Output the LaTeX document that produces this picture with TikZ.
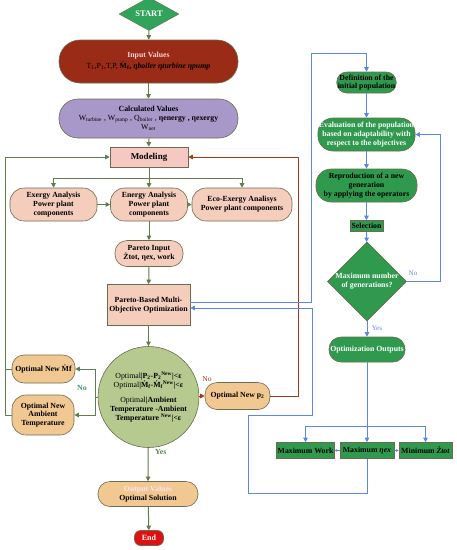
\documentclass[tikz,border=0pt]{standalone}
\usepackage{amsmath}
\usepackage{xcolor}
\usepackage{fontspec}
\setmainfont{Liberation Serif}
\usepackage{tikz}
\usetikzlibrary{arrows.meta,positioning,shapes.geometric,calc}

\definecolor{startgreen}{HTML}{2FA45A}
\definecolor{inred}{HTML}{9A2B16}
\definecolor{inpink}{HTML}{FAD0D6}
\definecolor{calcpurple}{HTML}{A897C9}
\definecolor{modpink}{HTML}{F5C9C1}
\definecolor{anasalmon}{HTML}{F5CDBD}
\definecolor{opttan}{HTML}{F1C891}
\definecolor{circgreen}{HTML}{B6CA8F}
\definecolor{gagreen}{HTML}{2F9A4E}
\definecolor{boxedge}{HTML}{6D6B4F}
\definecolor{flowgreen}{HTML}{5F7E4E}
\definecolor{flowblue}{HTML}{5B87E6}
\definecolor{flowred}{HTML}{A33A1A}
\definecolor{endred}{HTML}{E01010}
\definecolor{nogreen}{HTML}{3A9A6E}

\begin{document}
\begin{tikzpicture}[x=1pt, y=-1pt,
  font=\fontsize{7.8}{8.8}\selectfont\bfseries,
  box/.style={draw=boxedge, line width=0.6pt, align=center, inner sep=1pt},
  pill/.style={box, rounded corners=#1},
  gline/.style={flowgreen, line width=1pt},
  gflow/.style={gline, -{Triangle[length=4.5pt,width=4.5pt]}},
  bline/.style={flowblue, line width=1pt},
  bflow/.style={bline, -{Triangle[length=4.5pt,width=4.5pt]}},
  rflow/.style={flowred, line width=1pt, -{Triangle[length=4.5pt,width=4.5pt]}}]
  \useasboundingbox (0,0) rectangle (457,550);

  \node[diamond, fill=startgreen, draw=boxedge, minimum width=60pt, minimum height=23pt,
    inner sep=0pt, text=white, font=\fontsize{8.5}{9}\selectfont\bfseries] (start) at (149,14) {START};
  \node[pill=21pt, fill=inred, minimum width=179pt, minimum height=43pt] (input) at (148.5,61.5)
    {\textcolor{inpink}{Input Values}\\[2pt]
     {\mdseries T\textsubscript{1},P\textsubscript{1},T,P,} \.{M}\textsubscript{f}, \textit{ηboiler ηturbine ηpump}};
  \node[pill=19pt, fill=calcpurple, minimum width=179pt, minimum height=39pt] (calc) at (148.5,118.5)
    {Calculated Values\\
     {\mdseries W\textsubscript{turbine} , W\textsubscript{pump} , Q\textsubscript{boiler} ,} ηenergy , ηexergy\\
     {\mdseries W\textsubscript{net}}};
  \node[box, fill=modpink, minimum width=78pt, minimum height=20pt,
    font=\fontsize{9}{10}\selectfont\bfseries] (model) at (149,157) {Modeling};

  \node[pill=14pt, fill=anasalmon, minimum width=87pt, minimum height=33pt] (exergy) at (53.5,204.5)
    {Exergy Analysis\\Power plant\\components};
  \node[pill=14pt, fill=anasalmon, minimum width=77pt, minimum height=33pt] (energy) at (149,204.5)
    {Energy Analysis\\Power plant\\components};
  \node[pill=14pt, fill=anasalmon, minimum width=100pt, minimum height=33pt] (eco) at (242,204.5)
    {Eco-Exergy Analisys\\Power plant components};
  \node[pill=12pt, fill=anasalmon, minimum width=68pt, minimum height=26pt] (pin) at (149,253.5)
    {Pareto Input\\Żtot, ηex, work};
  \node[box, fill=anasalmon, minimum width=83pt, minimum height=41pt] (pbased) at (148.5,305)
    {Pareto-Based Multi-\\Objective Optimization};
  \node[circle, draw=boxedge, line width=0.6pt, fill=circgreen, minimum size=101pt, inner sep=0pt,
    align=center] (circ) at (148.5,397)
    {{\mdseries Optimal}|P\textsubscript{2}-P\textsubscript{2}\textsuperscript{New}|<ε\\
     {\mdseries Optimal}|\.{M}\textsubscript{f}-\.{M}\textsubscript{f}\textsuperscript{New}|<ε\\[7pt]
     {\mdseries Optimal}|Ambient\\Temperature -Ambient\\Temperature \textsuperscript{New}|<ε};
  \node[pill=12pt, fill=opttan, minimum width=65pt, minimum height=27pt] (p2) at (237.5,396)
    {Optimal New p\textsubscript{2}};
  \node[pill=12pt, fill=opttan, minimum width=63pt, minimum height=28pt] (mf) at (43.5,369)
    {Optimal New \.{M}f};
  \node[pill=14pt, fill=opttan, minimum width=62pt, minimum height=40pt] (amb) at (43,415)
    {Optimal New\\Ambient\\Temperature};
  \node[pill=12pt, fill=opttan, minimum width=100pt, minimum height=25pt] (output) at (148,494)
    {\textcolor{inpink!60!white}{Output Values}\\Optimal Solution};
  \node[pill=6pt, fill=endred, draw=boxedge, minimum width=29pt, minimum height=15pt, text=white,
    font=\fontsize{8}{9}\selectfont\bfseries] (end) at (149,538) {End};

  \node[pill=10pt, fill=gagreen, minimum width=56pt, minimum height=21pt] (def) at (366.5,82.5)
    {Definition of the\\initial population};
  \node[pill=15pt, fill=gagreen, minimum width=97pt, minimum height=33pt, text=white] (eval) at (366.5,134.5)
    {Evaluation of the population\\based on adaptability with\\respect to the objectives};
  \node[pill=15pt, fill=gagreen, minimum width=101pt, minimum height=33pt] (repr) at (366.5,185.5)
    {Reproduction of a new\\generation\\by applying the operators};
  \node[box, fill=gagreen, minimum width=33pt, minimum height=11pt] (sel) at (366.5,226) {Selection};
  \node[diamond, fill=gagreen, draw=boxedge, line width=0.6pt, minimum width=77pt, minimum height=64pt,
    inner sep=0pt, align=center, text=white] (maxgen) at (367,281.5) {Maximum number\\of generations?};
  \node[pill=12pt, fill=gagreen, minimum width=76pt, minimum height=25pt, text=white] (optout) at (367,349.5)
    {Optimization Outputs};
  \node[box, fill=gagreen, minimum width=57pt, minimum height=16pt] (maxwork) at (305.5,450.5) {Maximum Work};
  \node[box, fill=gagreen, minimum width=54pt, minimum height=16pt] (maxeta) at (367,450.5) {Maximum \textit{ηex}};
  \node[box, fill=gagreen, minimum width=53pt, minimum height=16pt] (minz) at (425.5,450.5) {Minimum \textit{Żtot}};

  \coordinate (split) at (149,178);
  \coordinate (lsplit) at (95.5,397);
  \coordinate (lret) at (5,415);
  \coordinate (rret) at (298,396);
  \coordinate (bup) at (311,53);
  \coordinate (bloopA) at (248,493);
  \coordinate (bloopB) at (312,415);
  \coordinate (noturn) at (440,281.5);
  \coordinate (bsplit) at (367,426);

  \draw[gflow] (start) -- (input);
  \draw[gflow] (input) -- (calc);
  \draw[gflow] (calc) -- (model);
  \draw[gline] (model) -- (split);
  \draw[gflow] (split) -| (exergy.north);
  \draw[gflow] (split) -- (energy);
  \draw[gflow] (split) -| (eco.north);
  \draw[gflow] (exergy) -- (energy);
  \draw[gflow] (energy) -- (eco);
  \draw[gflow] (energy) -- (pin);
  \draw[gflow] (pin) -- (pbased);
  \draw[gflow] (pbased) -- (circ);
  \draw[gline] (circ.west) -- (lsplit);
  \draw[gflow] (lsplit) |- (mf.east);
  \draw[gflow] (lsplit) |- (amb.east);
  \node[text=nogreen] (nol) at (82,388) {No};
  \draw[gflow] (amb.west) -- (lret) |- (model.west);
  \draw[gline] (mf.west) -- (mf.west -| lret);
  \draw[rflow] (circ.east |- p2) -- (p2);
  \node[text=flowred, font=\fontsize{7.5}{8.4}\selectfont\mdseries] (nor) at (207,379) {No};
  \draw[rflow] (p2.east) -- (rret) |- (model.east);
  \draw[gflow] (circ) -- node[pos=0.12, right=3pt] (yesl) {Yes} (output);
  \draw[gflow] (output) -- (end);

  \draw[bflow] ([yshift=3pt]pbased.east) -| (bup) -| (def.north);
  \draw[bflow] (def) -- (eval);
  \draw[bflow] (eval) -- (repr);
  \draw[bflow] (repr) -- (sel);
  \draw[bflow] (sel) -- (maxgen);
  \draw[bflow] (maxgen) -- node[pos=0.45, right=1pt, text=flowblue, font=\fontsize{7}{8}\selectfont\mdseries] (yesr) {Yes} (optout);
  \draw[bflow] (maxgen.east) -- (noturn) |- (eval.east);
  \node[text=flowblue, font=\fontsize{7}{8}\selectfont\mdseries] (nob) at (413,273) {No};
  \draw[bflow] (optout) -- (maxeta);
  \draw[bflow] (bsplit) -| (maxwork.north);
  \draw[bflow] (bsplit) -| (minz.north);
  \draw[flowblue, line width=0.6pt, -{Triangle[length=2.5pt,width=2.5pt]}] (maxeta) -- (maxwork);
  \draw[flowblue, line width=0.6pt, -{Triangle[length=2.5pt,width=2.5pt]}] (maxeta) -- (minz);
  \draw[bflow] (maxeta.south) |- (bloopA) |- (bloopB) |- ([yshift=-3pt]pbased.east);
\end{tikzpicture}
\end{document}
